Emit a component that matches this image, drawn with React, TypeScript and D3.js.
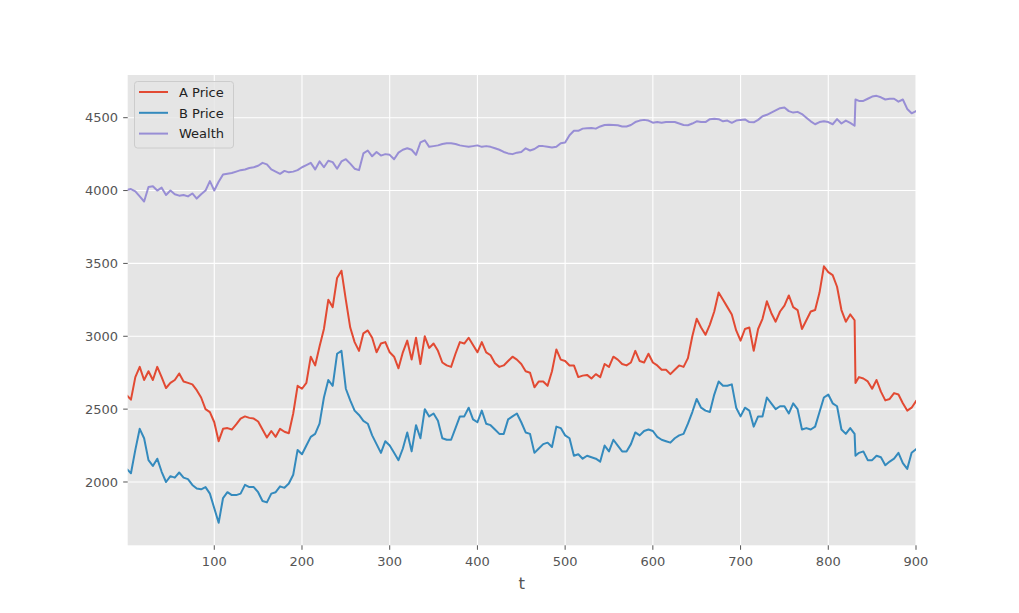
import React from "react";
import * as d3 from "d3";

// time index of the samples (a step at t=831)
const T: number[] = [1, ...d3.range(5, 831, 5), 831, ...d3.range(835, 901, 5)];

const wealth: number[] = [
  4005, 4010, 3995, 3960, 3925, 4025, 4030, 4000, 4020, 3970,
  4000, 3975, 3965, 3970, 3960, 3980, 3945, 3975, 4000, 4065,
  4000, 4060, 4110, 4115, 4120, 4130, 4140, 4145, 4155, 4160,
  4170, 4190, 4180, 4145, 4130, 4115, 4135, 4125, 4130, 4140,
  4160, 4175, 4190, 4145, 4200, 4160, 4205, 4195, 4150, 4200,
  4215, 4185, 4150, 4140, 4255, 4275, 4235, 4265, 4240, 4250,
  4245, 4215, 4260, 4280, 4290, 4280, 4245, 4330, 4345, 4300,
  4305, 4310, 4320, 4325, 4325, 4320, 4310, 4305, 4300, 4305,
  4310, 4300, 4305, 4300, 4290, 4280, 4265, 4255, 4250, 4260,
  4265, 4290, 4275, 4285, 4305, 4305, 4300, 4295, 4300, 4325,
  4330, 4380, 4410, 4410, 4425, 4428, 4430, 4425, 4440, 4450,
  4452, 4450, 4448, 4440, 4440, 4450, 4470, 4480, 4485, 4480,
  4466, 4470, 4465, 4470, 4470, 4470, 4460, 4450, 4448, 4460,
  4475, 4470, 4470, 4490, 4493, 4490, 4475, 4480, 4465, 4480,
  4485, 4488, 4470, 4468, 4485, 4510, 4520, 4535, 4550, 4565,
  4570, 4545, 4535, 4540, 4525, 4500, 4475, 4455, 4470, 4475,
  4470, 4455, 4490, 4460, 4480, 4465, 4445, 4625, 4615, 4615,
  4630, 4645, 4650, 4640, 4625, 4630, 4630, 4610, 4625, 4560,
  4530, 4545,
];

const priceA: number[] = [
  2590, 2565, 2720, 2790, 2700, 2760, 2700, 2790, 2720, 2645,
  2680, 2700, 2745, 2690, 2680, 2670, 2630, 2580, 2500, 2480,
  2410, 2280, 2365, 2370, 2360, 2395, 2435, 2450, 2440, 2435,
  2415, 2360, 2305, 2350, 2310, 2365, 2345, 2335, 2470, 2660,
  2640, 2680, 2860, 2800, 2930, 3050, 3250, 3200, 3400, 3450,
  3250, 3060, 2960, 2900, 3020, 3040, 2990, 2890, 2950, 2960,
  2890, 2860, 2780, 2890, 2970, 2840, 2990, 2810, 3000, 2920,
  2950, 2900, 2820, 2800, 2790, 2880, 2960, 2950, 2990, 2940,
  2890, 2960, 2890, 2870, 2815, 2790, 2800, 2830, 2860, 2840,
  2810, 2760, 2750, 2650, 2690, 2690, 2660, 2760, 2910, 2840,
  2830, 2800, 2800, 2720, 2730, 2735, 2710, 2740, 2720, 2810,
  2790, 2860, 2840, 2810, 2800, 2820, 2900, 2830, 2820, 2880,
  2820, 2800, 2770, 2770, 2740, 2770, 2800, 2790, 2850, 3000,
  3120, 3060, 3010, 3080, 3170, 3300, 3250, 3200, 3150, 3040,
  2970, 3050, 3060, 2900, 3050, 3120, 3240, 3160, 3100, 3170,
  3210, 3280, 3200, 3180, 3050, 3110, 3170, 3180, 3300, 3480,
  3440, 3420, 3340, 3180, 3100, 3150, 3110, 2680, 2720, 2710,
  2690, 2640, 2700, 2620, 2560, 2570, 2610, 2600, 2540, 2490,
  2510, 2555,
];

const priceB: number[] = [
  2085, 2060, 2220, 2365, 2300, 2150, 2110, 2160, 2070, 2000,
  2040, 2030, 2065, 2030, 2020, 1980, 1955, 1950, 1965, 1920,
  1820, 1720, 1890, 1930, 1910, 1910, 1920, 1980, 1965, 1965,
  1930, 1870, 1860, 1920, 1930, 1970, 1960, 1990, 2050, 2220,
  2190, 2250, 2310, 2330, 2400, 2580, 2700, 2660, 2880, 2900,
  2640, 2560, 2490, 2460, 2420, 2400, 2320, 2260, 2200, 2280,
  2250, 2200, 2150, 2230, 2340, 2210, 2390, 2300, 2500, 2450,
  2470, 2420, 2300, 2290, 2290, 2370, 2450, 2450, 2510, 2430,
  2410, 2490, 2400, 2390, 2360, 2330, 2330, 2430, 2450, 2470,
  2410, 2340, 2330, 2200, 2230, 2260, 2270, 2240, 2380, 2370,
  2320, 2300, 2180, 2190, 2160, 2180, 2170, 2160, 2140, 2250,
  2210, 2290, 2250, 2210, 2210, 2260, 2340, 2320, 2350, 2360,
  2350, 2310, 2290, 2280, 2270, 2300, 2320, 2330, 2400, 2480,
  2570, 2510, 2490, 2480, 2600, 2690, 2660, 2660, 2670, 2510,
  2450, 2510, 2490, 2380, 2450, 2450, 2580, 2540, 2500, 2520,
  2520, 2470, 2540, 2500, 2360, 2370, 2360, 2380, 2480, 2580,
  2600, 2540, 2520, 2360, 2330, 2370, 2330, 2180, 2200, 2210,
  2150, 2150, 2180, 2170, 2115, 2140, 2160, 2200, 2130, 2090,
  2200, 2225,
];

const seriesNames = ["A Price", "B Price", "Wealth"];
const seriesColors = ["#E24A33", "#348ABD", "#988ED5"];
const xTicks = [100, 200, 300, 400, 500, 600, 700, 800, 900];
const yTicks = [2000, 2500, 3000, 3500, 4000, 4500];

const W = 1019;
const H = 613;
const left = 127.7;
const right = 916;
const top = 75;
const bottom = 545.3;

export default function App() {
  const x = d3.scaleLinear().domain([1.3, 900]).range([left, right]);
  const y = d3.scaleLinear().domain([1565.6, 4793]).range([bottom, top]);
  const series = [priceA, priceB, wealth];
  const line = (vals: number[]) =>
    d3
      .line<number>()
      .x((_, i) => x(T[i]))
      .y((d) => y(d))(vals) || "";
  const font = "'DejaVu Sans', sans-serif";

  return (
    <svg
      width={W}
      height={H}
      style={{ position: "absolute", left: 0, top: 0, background: "#fff" }}
      fontFamily={font}
    >
      <defs>
        <clipPath id="plotclip">
          <rect x={left} y={top} width={right - left} height={bottom - top} />
        </clipPath>
      </defs>
      <rect x={left} y={top} width={right - left} height={bottom - top} fill="#E5E5E5" />
      {xTicks.map((t) => (
        <line key={"gx" + t} x1={x(t)} x2={x(t)} y1={top} y2={bottom} stroke="#fff" strokeWidth={1.1} />
      ))}
      {yTicks.map((v) => (
        <line key={"gy" + v} x1={left} x2={right} y1={y(v)} y2={y(v)} stroke="#fff" strokeWidth={1.1} />
      ))}
      <g clipPath="url(#plotclip)">
        {series.map((s, i) => (
          <path
            key={seriesNames[i]}
            d={line(s)}
            fill="none"
            stroke={seriesColors[i]}
            strokeWidth={2}
            strokeLinejoin="round"
            strokeLinecap="square"
          />
        ))}
      </g>
      {xTicks.map((t) => (
        <g key={"tx" + t}>
          <line x1={x(t)} x2={x(t)} y1={bottom} y2={bottom + 4.5} stroke="#555" strokeWidth={1} />
          <text x={x(t)} y={566} textAnchor="middle" fontSize={13} fill="#555">
            {t}
          </text>
        </g>
      ))}
      {yTicks.map((v) => (
        <g key={"ty" + v}>
          <line x1={left - 4.5} x2={left} y1={y(v)} y2={y(v)} stroke="#555" strokeWidth={1} />
          <text x={118} y={y(v) + 4.7} textAnchor="end" fontSize={13} fill="#555">
            {v}
          </text>
        </g>
      ))}
      <text x={(left + right) / 2} y={589} textAnchor="middle" fontSize={16.5} fill="#555">
        t
      </text>
      <g>
        <rect x={134.5} y={81.5} width={99} height={66.5} rx={3} fill="#E5E5E5" fillOpacity={0.8} stroke="#CCCCCC" strokeWidth={1} />
        {seriesNames.map((n, i) => (
          <g key={"lg" + n}>
            <line x1={139} x2={168} y1={92 + i * 20.8} y2={92 + i * 20.8} stroke={seriesColors[i]} strokeWidth={2} />
            <text x={179} y={92 + i * 20.8 + 4.7} fontSize={13} fill="#222">
              {n}
            </text>
          </g>
        ))}
      </g>
    </svg>
  );
}
